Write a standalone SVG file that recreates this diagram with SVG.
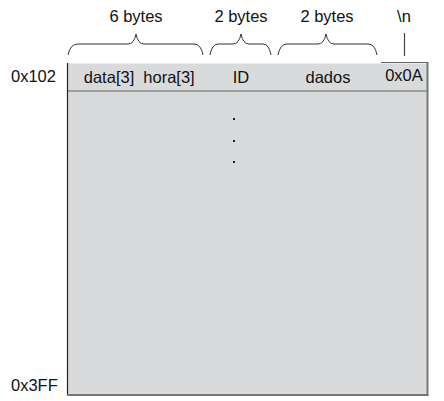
<svg xmlns="http://www.w3.org/2000/svg" width="444" height="401" viewBox="0 0 444 401">
<style>
text{font-family:"Liberation Sans",Arial,sans-serif;font-size:16.5px;fill:#111;text-anchor:middle}
.lbl{text-anchor:start}
.brace{fill:none;stroke:#333;stroke-width:1}
</style>
<rect width="444" height="401" fill="#fff"/>
<g id="memory">
<rect x="67.5" y="63.5" width="360" height="331" fill="#d9dadc" stroke="none"/>
<line x1="67.5" y1="63" x2="67.5" y2="395" stroke="#222" stroke-width="1.2"/>
<line x1="427.5" y1="62" x2="427.5" y2="395.5" stroke="#777" stroke-width="2"/>
<line x1="67" y1="395" x2="428.5" y2="395" stroke="#777" stroke-width="2"/>
<line x1="68" y1="91" x2="427" y2="91" stroke="#8a8a8a" stroke-width="1.5"/>
<line x1="381" y1="62.5" x2="428" y2="62.5" stroke="#666" stroke-width="1"/>
</g>
<g id="row-header">
<text x="109" y="83">data[3]</text>
<text x="169" y="83">hora[3]</text>
<text x="241" y="83">ID</text>
<text x="328" y="83">dados</text>
<text x="404" y="81">0x0A</text>
</g>
<g id="addresses">
<text class="lbl" x="11" y="82">0x102</text>
<text class="lbl" x="11" y="391">0x3FF</text>
</g>
<g id="dots" fill="#222">
<rect x="233" y="118" width="2" height="2"/>
<rect x="233" y="140" width="2" height="2"/>
<rect x="233" y="161" width="2" height="2"/>
</g>
<g id="size-labels">
<text x="136" y="22">6 bytes</text>
<text x="241" y="22">2 bytes</text>
<text x="327" y="22">2 bytes</text>
<text x="404" y="22">\n</text>
</g>
<g id="connectors">
<path class="brace" d="M68,55 Q70,44 78,44 L128,44 Q134,44 136,34 Q138,44 144,44 L194,44 Q201,44 203,55"/>
<path class="brace" d="M210,55 Q212,44 218,44 L233,44 Q239,44 241,34 Q243,44 249,44 L263,44 Q269,44 271,55"/>
<path class="brace" d="M278,55 Q280,44 287,44 L318,44 Q324,44 326,34 Q328,44 334,44 L368,44 Q375,44 377,55"/>
<line x1="404.5" y1="33" x2="404.5" y2="56" stroke="#444" stroke-width="1.2"/>
</g>
</svg>
